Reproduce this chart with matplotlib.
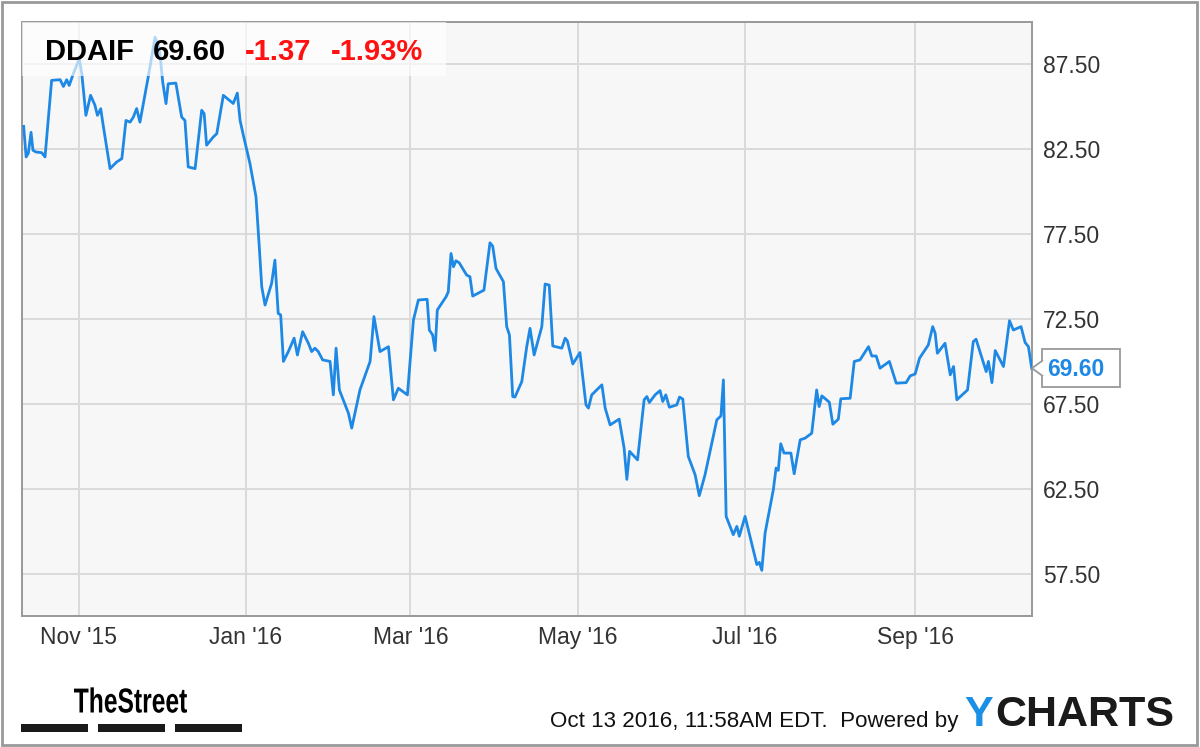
import numpy as np
import pandas as pd
import matplotlib
matplotlib.use("Agg")
import matplotlib.pyplot as plt
import matplotlib.dates as mdates
from matplotlib.patches import Rectangle, Polygon, PathPatch
from matplotlib.textpath import TextPath
from matplotlib.font_manager import FontProperties
from matplotlib.transforms import Affine2D

plt.rcParams['font.family'] = ['Liberation Sans', 'DejaVu Sans']

ticker = 'DDAIF'
last_price = 69.60
change = '-1.37'
change_pct = '-1.93%'
stamp = 'Oct 13 2016, 11:58AM EDT.  Powered by'
start = pd.Timestamp('2015-10-12')

# days since 2015-10-12 and closing price
days = [0.0, 0.9, 1.7, 2.7, 3.4, 4.5, 6.6, 7.8, 10.2, 13.3,
        14.5, 15.7, 16.6, 18.1, 20.3, 21.2, 22.7, 24.4, 26.0, 26.9,
        28.1, 29.0, 31.5, 33.9, 35.8, 37.3, 38.8, 40.0, 41.2, 42.4,
        45.4, 47.9, 49.5, 50.7, 51.9, 52.7, 55.5, 57.6, 58.8, 60.0,
        62.5, 64.9, 65.8, 66.7, 69.1, 70.4, 72.8, 76.4, 77.9, 78.9,
        80.1, 82.5, 84.7, 85.9, 86.8, 88.0, 90.4, 91.6, 92.8, 93.7,
        94.7, 96.5, 98.6, 99.8, 101.7, 103.8, 105.0, 106.2, 107.4, 109.0,
        111.7, 112.9, 113.9, 115.1, 118.4, 119.6, 122.6, 126.3, 127.7, 129.9,
        133.0, 134.8, 136.6, 139.9, 142.1, 143.9, 147.1, 147.9, 149.1, 150.0,
        150.8, 154.0, 154.8, 155.8, 156.7, 157.6, 158.8, 161.5, 162.7, 163.7,
        167.8, 170.0, 171.0, 172.2, 174.9, 176.1, 177.1, 178.3, 179.1, 181.6,
        183.4, 184.6, 186.1, 188.9, 190.1, 191.6, 192.9, 196.2, 197.4, 198.2,
        200.2, 202.8, 205.0, 205.9, 207.1, 210.8, 212.0, 213.8, 217.1, 218.9,
        219.9, 220.9, 223.8, 226.2, 227.2, 228.1, 230.2, 232.0, 233.0, 234.1,
        235.4, 238.1, 239.1, 240.3, 242.3, 244.8, 246.3, 248.4, 252.7, 254.2,
        255.1, 256.1, 258.7, 260.0, 260.9, 263.0, 267.3, 268.2, 269.1, 270.3,
        273.3, 274.3, 275.1, 276.0, 277.2, 279.7, 280.9, 283.1, 284.9, 287.3,
        289.1, 290.0, 291.0, 293.7, 295.0, 297.0, 297.9, 301.3, 302.8, 304.9,
        308.0, 309.2, 310.8, 312.2, 315.6, 318.1, 321.7, 323.2, 325.0, 326.6,
        329.8, 331.4, 332.3, 333.1, 335.9, 337.8, 339.0, 340.2, 344.1, 346.2,
        347.2, 350.9, 351.7, 353.0, 354.2, 357.2, 359.4, 360.8, 363.6, 365.1,
        366.3, 367.5]
prices = [83.85, 82.05, 82.26, 83.5, 82.44, 82.34, 82.3, 82.05, 86.56, 86.6,
          86.2, 86.6, 86.26, 86.95, 87.83, 86.95, 84.5, 85.68, 85.09, 84.5,
          84.89, 83.91, 81.36, 81.75, 81.95, 84.2, 84.1, 84.4, 84.9, 84.1,
          86.75, 89.1, 88.42, 86.46, 85.19, 86.36, 86.4, 84.4, 84.2, 81.46,
          81.36, 84.8, 84.6, 82.74, 83.22, 83.42, 85.68, 85.2, 85.81, 84.2,
          83.32, 81.66, 79.7, 76.75, 74.4, 73.32, 74.6, 75.97, 72.83, 72.74,
          70.0, 70.58, 71.37, 70.38, 71.75, 71.07, 70.58, 70.78, 70.58, 70.09,
          70.0, 68.03, 70.78, 68.32, 66.95, 66.07, 68.32, 70.0, 72.64, 70.58,
          70.87, 67.74, 68.42, 68.03, 72.44, 73.62, 73.66, 71.85, 71.56, 70.64,
          73.03, 73.81, 74.1, 76.36, 75.58, 75.93, 75.81, 75.09, 74.99, 73.85,
          74.2, 76.99, 76.79, 75.48, 74.7, 72.05, 71.56, 67.93, 67.9, 68.81,
          70.87, 71.95, 70.38, 72.05, 74.56, 74.5, 70.91, 70.78, 71.37, 71.22,
          69.85, 70.52, 67.44, 67.25, 68.03, 68.62, 67.25, 66.26, 66.6, 64.9,
          63.05, 64.7, 64.2, 67.74, 67.93, 67.58, 68.03, 68.28, 67.64, 68.03,
          67.3, 67.44, 67.9, 67.78, 64.4, 63.32, 62.09, 63.32, 66.56, 66.79,
          68.91, 60.87, 59.79, 60.28, 59.7, 60.87, 58.03, 58.16, 57.69, 59.89,
          62.44, 63.72, 63.58, 65.15, 64.6, 64.6, 63.38, 65.38, 65.48, 65.77,
          68.32, 67.34, 67.97, 67.6, 66.3, 66.6, 67.8, 67.83, 70.0, 70.09,
          70.87, 70.32, 70.32, 69.6, 70.0, 68.72, 68.75, 69.15, 69.26, 70.19,
          70.97, 72.05, 71.66, 70.48, 71.07, 69.21, 69.7, 67.74, 68.32, 71.17,
          71.31, 69.4, 70.0, 68.75, 70.64, 69.7, 72.4, 71.85, 72.05, 71.11,
          70.87, 69.6]
yticks = [57.5, 62.5, 67.5, 72.5, 77.5, 82.5, 87.5]

dates = start + pd.to_timedelta(days, unit='D')

W, H = 1200, 747
fig = plt.figure(figsize=(W / 100, H / 100), dpi=100)


def fx(x):
    return x / W


def fy(y):
    return 1 - y / H


blue = '#1e88e5'
ax = fig.add_axes([fx(22), fy(616), fx(1032) - fx(22), fy(22) - fy(616)])
ax.set_facecolor('#f7f7f7')
ax.plot(dates, prices, color=blue, lw=2.0, zorder=3)

ax.set_xlim(start - pd.Timedelta(days=0.6), start + pd.Timedelta(days=367.6))
ax.set_ylim(55, 90)
ax.xaxis.set_major_locator(mdates.MonthLocator(bymonth=[1, 3, 5, 7, 9, 11]))
ax.xaxis.set_major_formatter(mdates.DateFormatter("%b '%y"))
ax.set_yticks(yticks)
ax.set_yticklabels([f'{v:.2f}' for v in yticks])
ax.yaxis.tick_right()
ax.tick_params(axis='both', length=0, labelsize=16.5, labelcolor='#333333')
ax.tick_params(axis='y', pad=8)
ax.tick_params(axis='x', pad=7)
ax.grid(True, color='#dadada', lw=1.4, zorder=1)
ax.set_axisbelow(True)
for s in ax.spines.values():
    s.set_color('#999999')
    s.set_linewidth(1.4)

# header box with quote
ax.add_patch(Rectangle((0, (616 - 76) / 594), (446 - 22) / 1010, 1 - (616 - 76) / 594,
                       transform=ax.transAxes, facecolor='white', alpha=0.65,
                       edgecolor='none', zorder=4))
fig.text(fx(45), fy(60), ticker, fontsize=21, weight='bold', color='black', va='baseline')
fig.text(fx(153), fy(60), f'{last_price:.2f}', fontsize=21, weight='bold', color='black', va='baseline')
fig.text(fx(245), fy(60), change, fontsize=21, weight='bold', color='#ff1111', va='baseline')
fig.text(fx(331), fy(60), change_pct, fontsize=21, weight='bold', color='#ff1111', va='baseline')

# last value flag
ypix = ax.transData.transform((0, last_price))[1]
yflag = H - ypix
fig.add_artist(Rectangle((fx(1042), fy(yflag + 19)), fx(78), 38 / H,
                         facecolor='white', edgecolor='#999999', lw=1.3))
fig.add_artist(Polygon([(fx(1043), fy(yflag - 8)), (fx(1032), fy(yflag)), (fx(1043), fy(yflag + 8))],
                       closed=False, facecolor='white', edgecolor='#999999', lw=1.3))
fig.text(fx(1047), fy(yflag + 1), f'{last_price:.2f}', fontsize=16.5, weight='bold',
         color=blue, va='center')

# footer
fp = FontProperties(family='Liberation Sans', weight='bold')
tp = TextPath((0, 0), 'TheStreet', size=36, prop=fp)
ext = tp.get_extents()
sx = 113 / ext.width
sy = 25.5 / ext.height
tr = Affine2D().translate(-ext.x0, 0).scale(sx, sy).translate(74, H - 712.5)
fig.add_artist(PathPatch(tp, transform=tr, facecolor='black', edgecolor='none'))
for x0, x1 in [(21, 88), (98, 165), (175, 242)]:
    fig.add_artist(Rectangle((fx(x0), fy(732)), fx(x1 - x0), 8 / H,
                             facecolor='#1a1a1a', edgecolor='none'))

fig.text(fx(959), fy(727), stamp, fontsize=16.1, color='#111111', ha='right', va='baseline')
fig.text(fx(964), fy(726), 'Y', fontsize=31, weight='bold', color='#1a8fe6', va='baseline')
fig.text(fx(995), fy(726), 'CHARTS', fontsize=31, weight='bold', color='#1a1a1a', va='baseline')

# outer frame
fig.add_artist(Rectangle((fx(2), fy(745)), fx(1195), 743 / H, fill=False,
                         edgecolor='#999999', lw=2))

fig.savefig('out.png', dpi=100)
